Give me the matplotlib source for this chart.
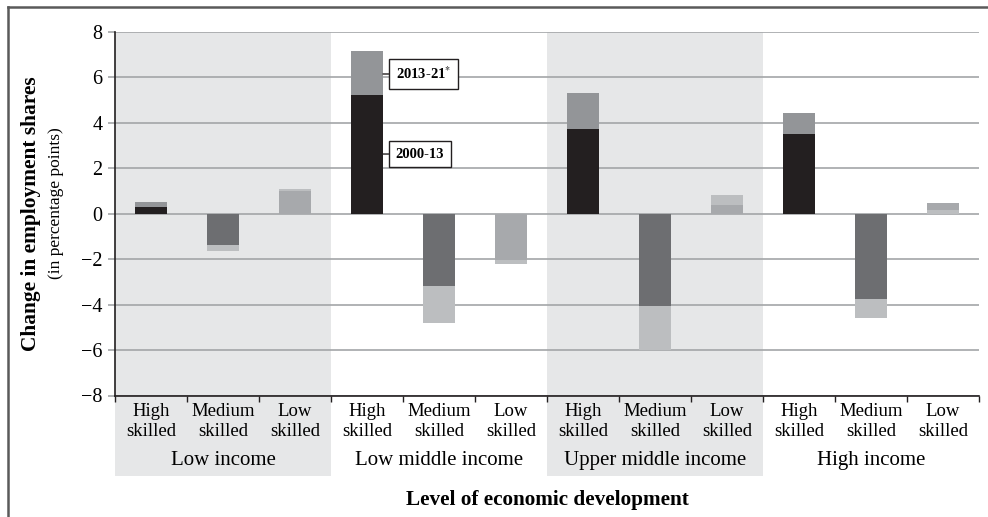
import numpy as np
import matplotlib
matplotlib.use("Agg")
import matplotlib.pyplot as plt
from matplotlib.lines import Line2D
import matplotlib.transforms as mtransforms

plt.rcParams["font.family"] = ["Liberation Serif", "DejaVu Serif"]
plt.rcParams["mathtext.fontset"] = "stix"

skills = ["High\nskilled", "Medium\nskilled", "Low\nskilled"] * 4
groups = ["Low income", "Low middle income", "Upper middle income", "High income"]
# 2000-13 (lower segment) and 2013-21 (segment stacked on it)
first = [0.27, -1.36, 1.0, 5.2, -3.18, -2.04, 3.72, -4.06, 0.38, 3.52, -3.74, 0.15]
second = [0.26, -0.30, 0.10, 1.95, -1.65, -0.16, 1.58, -1.94, 0.44, 0.91, -0.83, 0.32]
first_colors = ["#231f20", "#6d6e71", "#a7a9ac"] * 3 + ["#231f20", "#6d6e71", "#bcbec0"]
second_colors = ["#939598", "#bcbec0", "#bcbec0"] * 3 + ["#939598", "#bcbec0", "#a7a9ac"]

fig = plt.figure(figsize=(9.88, 5.17), dpi=100)
ax = fig.add_axes([115 / 988, (517 - 395.5) / 517, 864 / 988, 363.8 / 517])

x = np.arange(len(first))
ax.bar(x, first, width=0.444, color=first_colors, zorder=3)
ax.bar(x, second, width=0.444, bottom=first, color=second_colors, zorder=3)

# shaded income groups, running down behind the labels
for start in [-0.5, 5.5]:
    ax.axvspan(start, start + 3, ymin=-0.2205, ymax=1, color="#e6e7e8",
               zorder=0, clip_on=False, lw=0)

ax.set_xlim(-0.5, 11.5)
ax.set_ylim(-8, 8)
ax.set_yticks(range(-8, 9, 2))
ax.set_axisbelow(True)
ax.grid(axis="y", color="#a3a5a8", linewidth=1.2)
ax.tick_params(axis="y", length=5, color="#a3a5a8", width=1.2, labelsize=14.5, pad=4)

ax.set_xticks(x)
ax.set_xticklabels(skills, fontsize=13.5, linespacing=1.25)
ax.set_xticks(np.arange(-0.5, 12, 1), minor=True)
ax.tick_params(axis="x", which="major", length=0, pad=5.5)
ax.tick_params(axis="x", which="minor", length=4, width=1, color="#231f20")

for s in ["top", "right"]:
    ax.spines[s].set_visible(False)
ax.spines["left"].set_color("#231f20")
ax.spines["bottom"].set_color("#231f20")
ax.spines["left"].set_linewidth(1.2)
ax.spines["bottom"].set_linewidth(1.2)

trans = mtransforms.blended_transform_factory(ax.transData, ax.transAxes)
for i, g in enumerate(groups):
    ax.text(3 * i + 1, -0.18, g, transform=trans, ha="center", va="center", fontsize=15)

fig.text(547 / 988, (517 - 500) / 517, "Level of economic development", ha="center",
         va="center", fontsize=15.3, fontweight="bold")
fig.text(31 / 988, (517 - 213.5) / 517, "Change in employment shares", rotation=90,
         ha="center", va="center", fontsize=15.4, fontweight="bold")
fig.text(56 / 988, (517 - 203) / 517, "(in percentage points)", rotation=90,
         ha="center", va="center", fontsize=12.5)

box = dict(boxstyle="square,pad=0.45", fc="white", ec="#231f20", lw=1)
ax.annotate("2013-21$^{*}$", xy=(3.222, 6.14), xytext=(3.4, 6.14), ha="left", va="center",
            fontsize=10.5, fontweight="bold", bbox=box,
            arrowprops=dict(arrowstyle="-", color="#231f20", lw=1, shrinkA=0, shrinkB=0))
ax.annotate("2000-13", xy=(3.222, 2.62), xytext=(3.4, 2.62), ha="left", va="center",
            fontsize=10.5, fontweight="bold", bbox=box,
            arrowprops=dict(arrowstyle="-", color="#231f20", lw=1, shrinkA=0, shrinkB=0))

# outer frame (top and left edges)
fig.add_artist(Line2D([8 / 988, 1], [1 - 6.5 / 517, 1 - 6.5 / 517], color="#5a5a5a", lw=1.8))
fig.add_artist(Line2D([8 / 988, 8 / 988], [0, 1 - 6.5 / 517], color="#5a5a5a", lw=1.8))

fig.savefig("out.png", dpi=100)
